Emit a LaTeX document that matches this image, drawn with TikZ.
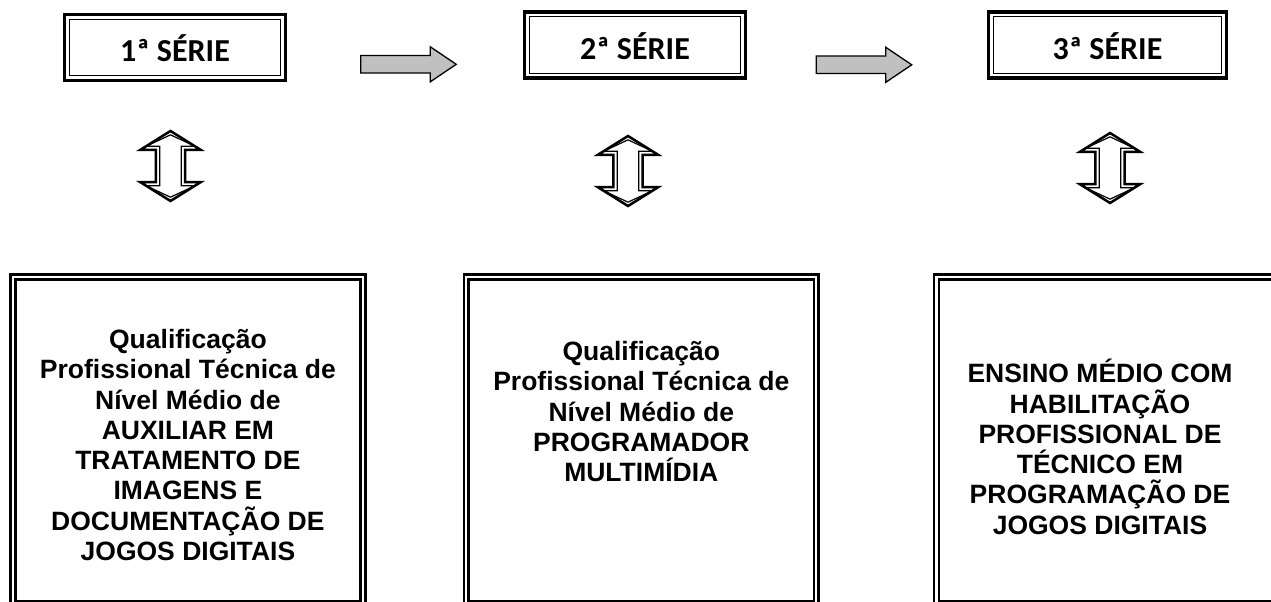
\documentclass[tikz,border=0pt]{standalone}
\usepackage{fontspec}
\setmainfont{Liberation Sans}
\newfontfamily\carlito{Carlito}
\usetikzlibrary{positioning,shapes.arrows}
\definecolor{cinza}{RGB}{192,192,192}

\tikzset{
    serie/.style={draw, line width=1.1pt, minimum height=56.4pt, inner sep=0pt, outer sep=0pt,
        text height=29pt, text depth=0pt, font=\carlito\bfseries\fontsize{32}{38}\selectfont},
    moldura/.style={line width=3.4pt},
    seta/.style={single arrow, draw, fill=cinza, line width=1.3pt, inner sep=0pt, inner ysep=8.1pt,
        minimum height=95.5pt, minimum width=33.7pt, single arrow head extend=8.75pt, single arrow tip angle=68},
    duplo/.style={double arrow, draw, rotate=90, line width=2.5pt, inner sep=0pt, inner ysep=13.4pt,
        minimum height=70pt, minimum width=58pt, double arrow head extend=15.6pt, double arrow tip angle=116},
    duplofino/.style={double arrow, draw, rotate=90, line width=1.2pt, inner sep=0pt, inner ysep=10.15pt,
        minimum height=62.3pt, minimum width=48pt, double arrow head extend=13.85pt, double arrow tip angle=130},
    quadro/.style={draw, double, line width=2.5pt, double distance=2.3pt, inner sep=0pt, outer sep=0pt,
        minimum width=350pt, minimum height=326.5pt},
    texto/.style={align=center, inner sep=0pt, font=\bfseries\fontsize{26.5}{30.3}\selectfont}
}

\begin{document}
\begin{tikzpicture}[x=1pt, y=-1pt]
        \useasboundingbox (0,0) rectangle (1271,602);
        \clip (0,0) rectangle (1271,602);

        \node[serie, minimum width=211.4pt] (s1) at (175,47.5) {1ª SÉRIE};
        \node[serie, minimum width=211.4pt] (s2) at (635,45) {2ª SÉRIE};
        \node[serie, minimum width=228.4pt] (s3) at (1107.5,45) {3ª SÉRIE};
        \foreach \s in {s1,s2,s3}
            \draw[moldura] ([shift={(-4.9pt,4.9pt)}]\s.north west) rectangle ([shift={(4.9pt,-4.9pt)}]\s.south east);

        \node[seta] (a1) at (402,64.3) {};
        \node[seta] (a2) at (857.5,64.8) {};

        \node[duplo] (d1) at (170.5,166) {};
        \node[duplofino] (d1i) at (d1) {};
        \node[duplo] (d2) at (628,171) {};
        \node[duplofino] (d2i) at (d2) {};
        \node[duplo] (d3) at (1110,168) {};
        \node[duplofino] (d3i) at (d3) {};

        \node[quadro] (q1) at (187.9,440.3) {};
        \node[quadro] (q2) at (641.3,440.3) {};
        \node[quadro] (q3) at (1111.5,440.3) {};

        \node[texto, below=52pt of q1.north] (t1) {Qualificação\\Profissional Técnica de\\Nível Médio de\\AUXILIAR EM\\TRATAMENTO DE\\IMAGENS E\\DOCUMENTAÇÃO DE\\JOGOS DIGITAIS};
        \node[texto, below=64pt of q2.north] (t2) {Qualificação\\Profissional Técnica de\\Nível Médio de\\PROGRAMADOR\\MULTIMÍDIA};
        \node[texto, below=82pt of q3.north, xshift=-11.5pt] (t3) {ENSINO MÉDIO COM\\HABILITAÇÃO\\PROFISSIONAL DE\\TÉCNICO EM\\PROGRAMAÇÃO DE\\JOGOS DIGITAIS};
    \end{tikzpicture}
\end{document}
